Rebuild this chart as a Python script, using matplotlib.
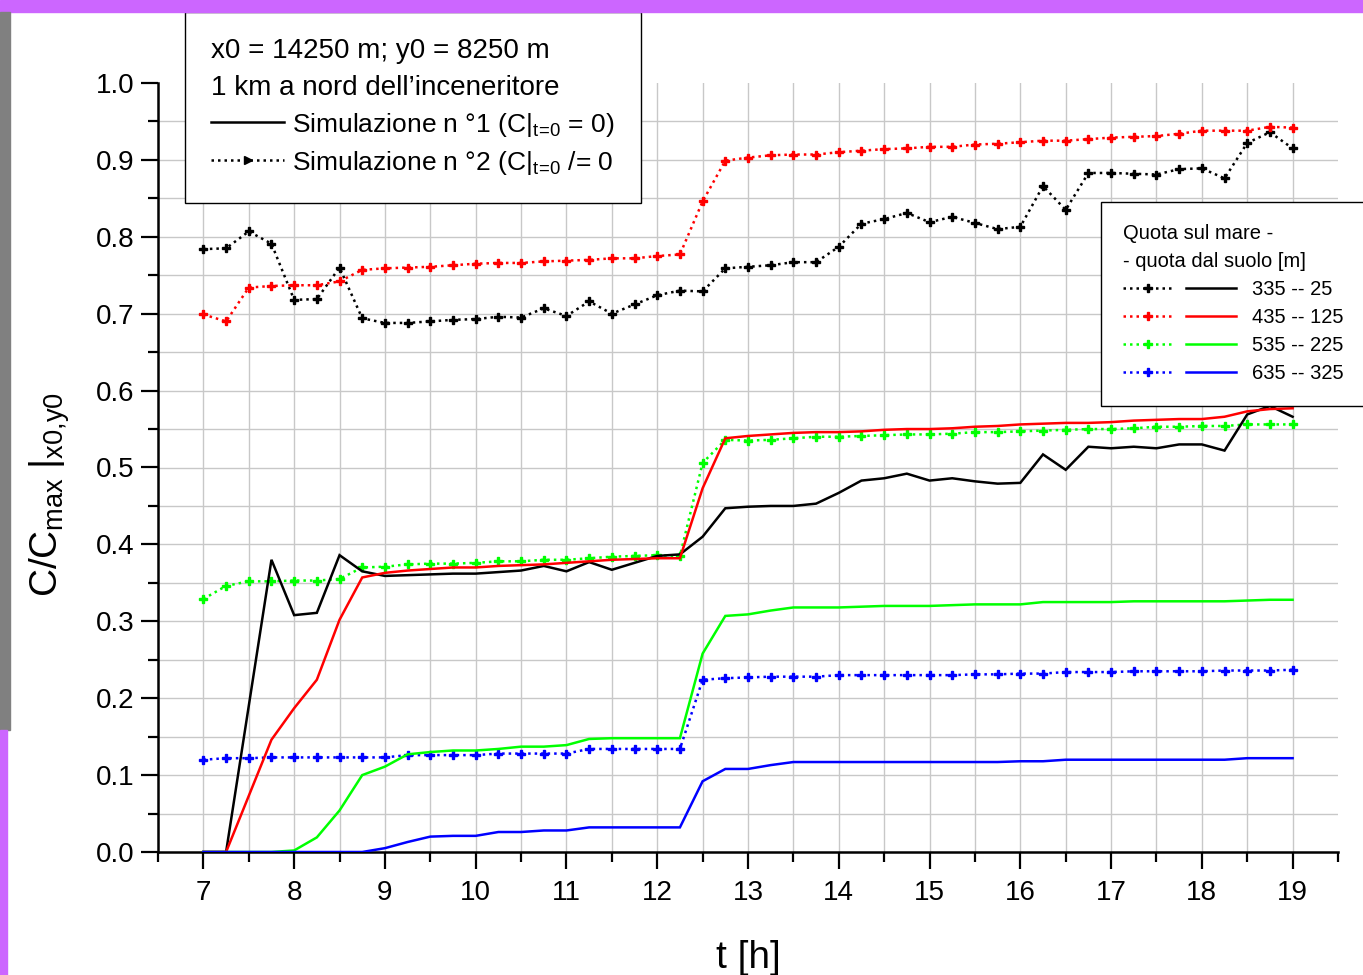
import numpy as np
import matplotlib
matplotlib.use("Agg")
import matplotlib.pyplot as plt
from matplotlib.lines import Line2D
from matplotlib.patches import Rectangle
from matplotlib.legend_handler import HandlerTuple
from matplotlib.ticker import MultipleLocator, FormatStrFormatter

plt.rcParams['font.family'] = ['Liberation Sans', 'DejaVu Sans']
plt.rcParams['mathtext.fontset'] = 'custom'
plt.rcParams['mathtext.rm'] = 'Liberation Sans'
plt.rcParams['mathtext.it'] = 'Liberation Sans'
plt.rcParams['mathtext.bf'] = 'Liberation Sans:bold'

# ---- data: time [h], every quarter hour ----
t_h = [7.0, 7.25, 7.5, 7.75, 8.0, 8.25, 8.5, 8.75, 9.0, 9.25, 9.5, 9.75,
       10.0, 10.25, 10.5, 10.75, 11.0, 11.25, 11.5, 11.75, 12.0, 12.25, 12.5, 12.75,
       13.0, 13.25, 13.5, 13.75, 14.0, 14.25, 14.5, 14.75, 15.0, 15.25, 15.5, 15.75,
       16.0, 16.25, 16.5, 16.75, 17.0, 17.25, 17.5, 17.75, 18.0, 18.25, 18.5, 18.75, 19.0]

quote = ["335 -- 25", "435 -- 125", "535 -- 225", "635 -- 325"]
colors = ["black", "#ff0000", "#00ff00", "#0000ff"]

# Simulazione n.1 (C|t=0 = 0), solid lines
sim1_335 = [0, 0, 0.19, 0.380, 0.308, 0.311, 0.386, 0.365, 0.359, 0.360, 0.361, 0.362,
            0.362, 0.364, 0.366, 0.372, 0.365, 0.377, 0.367, 0.376, 0.385, 0.387, 0.410, 0.447,
            0.449, 0.450, 0.450, 0.453, 0.467, 0.483, 0.486, 0.492, 0.483, 0.486, 0.482, 0.479,
            0.480, 0.517, 0.497, 0.527, 0.525, 0.527, 0.525, 0.530, 0.530, 0.522, 0.569, 0.580, 0.566]
sim1_435 = [0, 0, 0.073, 0.146, 0.187, 0.224, 0.302, 0.357, 0.363, 0.366, 0.368, 0.370,
            0.370, 0.372, 0.373, 0.374, 0.376, 0.378, 0.380, 0.381, 0.382, 0.382, 0.473, 0.538,
            0.541, 0.543, 0.545, 0.546, 0.546, 0.547, 0.549, 0.550, 0.550, 0.551, 0.553, 0.554,
            0.556, 0.557, 0.558, 0.558, 0.559, 0.561, 0.562, 0.563, 0.563, 0.566, 0.573, 0.576, 0.577]
sim1_535 = [0, 0, 0, 0, 0.002, 0.019, 0.054, 0.100, 0.111, 0.127, 0.130, 0.132,
            0.132, 0.134, 0.137, 0.137, 0.139, 0.147, 0.148, 0.148, 0.148, 0.148, 0.258, 0.307,
            0.309, 0.314, 0.318, 0.318, 0.318, 0.319, 0.320, 0.320, 0.320, 0.321, 0.322, 0.322,
            0.322, 0.325, 0.325, 0.325, 0.325, 0.326, 0.326, 0.326, 0.326, 0.326, 0.327, 0.328, 0.328]
sim1_635 = [0, 0, 0, 0, 0, 0, 0, 0, 0.005, 0.013, 0.020, 0.021,
            0.021, 0.026, 0.026, 0.028, 0.028, 0.032, 0.032, 0.032, 0.032, 0.032, 0.092, 0.108,
            0.108, 0.113, 0.117, 0.117, 0.117, 0.117, 0.117, 0.117, 0.117, 0.117, 0.117, 0.117,
            0.118, 0.118, 0.120, 0.120, 0.120, 0.120, 0.120, 0.120, 0.120, 0.120, 0.122, 0.122, 0.122]

# Simulazione n.2 (C|t=0 /= 0), dotted lines with markers
sim2_335 = [0.784, 0.785, 0.807, 0.791, 0.718, 0.719, 0.760, 0.694, 0.688, 0.688, 0.690, 0.692,
            0.693, 0.696, 0.695, 0.707, 0.697, 0.716, 0.700, 0.712, 0.724, 0.730, 0.729, 0.759,
            0.761, 0.763, 0.767, 0.767, 0.787, 0.817, 0.823, 0.831, 0.819, 0.826, 0.818, 0.810,
            0.813, 0.866, 0.835, 0.883, 0.883, 0.882, 0.881, 0.888, 0.889, 0.876, 0.922, 0.936, 0.915]
sim2_435 = [0.699, 0.690, 0.734, 0.736, 0.737, 0.737, 0.742, 0.757, 0.759, 0.760, 0.761, 0.763,
            0.765, 0.766, 0.766, 0.768, 0.769, 0.770, 0.772, 0.772, 0.775, 0.777, 0.846, 0.899,
            0.903, 0.906, 0.907, 0.907, 0.910, 0.912, 0.914, 0.915, 0.917, 0.917, 0.920, 0.921,
            0.923, 0.925, 0.925, 0.927, 0.929, 0.930, 0.931, 0.934, 0.938, 0.938, 0.938, 0.943, 0.942]
sim2_535 = [0.329, 0.346, 0.352, 0.352, 0.353, 0.353, 0.355, 0.370, 0.371, 0.374, 0.375, 0.375,
            0.376, 0.378, 0.378, 0.380, 0.380, 0.382, 0.384, 0.385, 0.386, 0.385, 0.506, 0.536,
            0.535, 0.536, 0.538, 0.540, 0.540, 0.541, 0.542, 0.543, 0.543, 0.544, 0.546, 0.546,
            0.547, 0.548, 0.549, 0.550, 0.550, 0.551, 0.553, 0.553, 0.554, 0.554, 0.556, 0.556, 0.556]
sim2_635 = [0.120, 0.122, 0.122, 0.123, 0.123, 0.123, 0.123, 0.123, 0.123, 0.126, 0.126, 0.126,
            0.126, 0.128, 0.128, 0.128, 0.128, 0.134, 0.134, 0.134, 0.134, 0.134, 0.224, 0.226,
            0.227, 0.228, 0.228, 0.228, 0.230, 0.230, 0.230, 0.230, 0.230, 0.230, 0.231, 0.231,
            0.232, 0.232, 0.234, 0.234, 0.234, 0.235, 0.235, 0.235, 0.235, 0.236, 0.236, 0.236, 0.237]

sim1 = [sim1_335, sim1_435, sim1_535, sim1_635]
sim2 = [sim2_335, sim2_435, sim2_535, sim2_635]

DOT = (0, (1, 1.6))
LW = 1.8
MS = 6

fig = plt.figure(figsize=(13.63, 9.75), dpi=100)
ax = fig.add_axes([158/1363, 1-852/975, 1180/1363, 769/975])

# grid
for gx in np.arange(7, 19.01, 0.5):
    ax.axvline(gx, color='#c8c8c8', lw=1, zorder=0.5)
for gy in np.arange(0.05, 0.96, 0.05):
    ax.axhline(gy, color='#c8c8c8', lw=1, zorder=0.5)

for ys, c in zip(sim2, colors):
    ax.plot(t_h, ys, color=c, lw=LW, ls=DOT, marker='P', ms=MS, zorder=3)
for ys, c in zip(sim1, colors):
    ax.plot(t_h, ys, color=c, lw=LW, zorder=3, solid_joinstyle='miter')

ax.set_xlim(6.5, 19.5)
ax.set_ylim(0, 1.0)
ax.xaxis.set_major_locator(MultipleLocator(1))
ax.xaxis.set_minor_locator(MultipleLocator(0.5))
ax.yaxis.set_major_locator(MultipleLocator(0.1))
ax.yaxis.set_minor_locator(MultipleLocator(0.05))
ax.yaxis.set_major_formatter(FormatStrFormatter('%.1f'))
ax.tick_params(which='major', length=12, width=1.6, direction='out', labelsize=20, pad=5)
ax.tick_params(axis='x', which='major', pad=8)
ax.tick_params(which='minor', length=7, width=1.6, direction='out')
ax.spines['top'].set_visible(False)
ax.spines['right'].set_visible(False)
ax.spines['left'].set_linewidth(1.8)
ax.spines['bottom'].set_linewidth(1.8)

ax.text(-0.092, (852-495)/769, r'$C/C_{\rm max}\;|_{\rm x0{,}y0}$', transform=ax.transAxes,
        rotation=90, ha='center', va='center', fontsize=28)
ax.text(0.5, -0.138, 't [h]', transform=ax.transAxes, ha='center', va='center', fontsize=28)

# legend 1: simulations
h_s1 = Line2D([], [], color='black', lw=LW)
h_s2 = Line2D([], [], color='black', lw=LW, ls=DOT, marker='>', ms=MS)
leg1 = fig.legend([h_s1, h_s2],
                  [r'Simulazione n °1 (C$|_{t\!=\!0}$ = 0)',
                   r'Simulazione n °2 (C$|_{t\!=\!0}$ /= 0'],
                  loc='upper left', bbox_to_anchor=(185/1363, 1-12/975), borderaxespad=0,
                  title="x0 = 14250 m; y0 = 8250 m\n1 km a nord dell’inceneritore",
                  alignment='left', fontsize=20, title_fontsize=20, fancybox=False,
                  edgecolor='black', framealpha=1, handlelength=2.6, handletextpad=0.3,
                  borderpad=0.95, labelspacing=0.35, numpoints=1)
leg1.get_frame().set_linewidth(1)
leg1.get_title().set_linespacing(1.55)
for txt in leg1.get_texts():
    txt.set_fontsize(19)

# legend 2: heights
handles2 = []
for c in colors:
    d = Line2D([], [], color=c, lw=LW, ls=DOT, marker='P', ms=MS)
    s = Line2D([], [], color=c, lw=LW)
    handles2.append((d, s))
leg2 = fig.legend(handles2, quote, handler_map={tuple: HandlerTuple(ndivide=None, pad=0.6)},
                  loc='upper left', bbox_to_anchor=(1101/1363, 1-202/975), borderaxespad=0,
                  title="Quota sul mare -\n- quota dal suolo [m]", alignment='left',
                  fontsize=14.5, title_fontsize=14.5, fancybox=False, edgecolor='black',
                  framealpha=1, handlelength=5.6, handletextpad=0.8, borderpad=1.1,
                  labelspacing=0.45, numpoints=1)
leg2.get_frame().set_linewidth(1)
leg2.get_title().set_linespacing(1.6)

# window borders of the screenshot
fig.add_artist(Rectangle((0, 1-12/975), 1, 12/975, transform=fig.transFigure,
                         color='#cc66ff', zorder=10))
fig.add_artist(Rectangle((0, 1-730/975), 10/1363, (730-12)/975, transform=fig.transFigure,
                         color='#808080', zorder=10))
fig.add_artist(Rectangle((0, 0), 7/1363, 1-730/975, transform=fig.transFigure,
                         color='#cc66ff', zorder=10))

fig.savefig("out.png", dpi=100)
